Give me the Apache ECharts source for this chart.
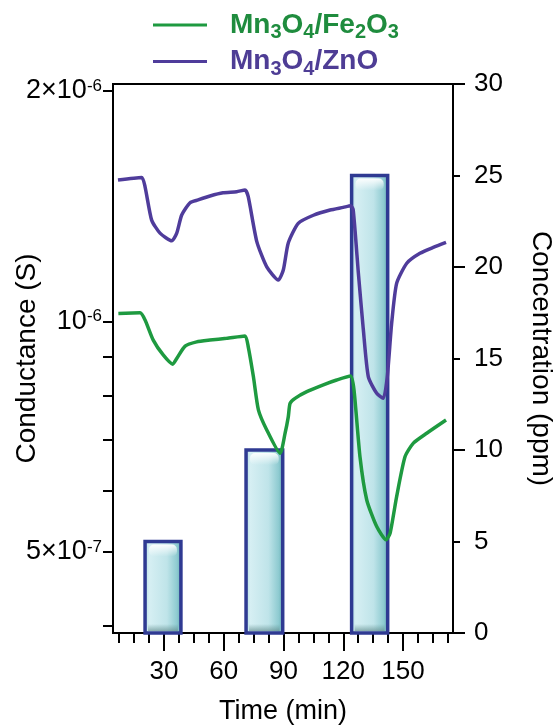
<!DOCTYPE html>
<html>
<head>
<meta charset="utf-8">
<script src="https://cdn.jsdelivr.net/npm/echarts@6/dist/echarts.min.js"></script>
<style>
html, body { margin: 0; padding: 0; background: #fff; }
#chart { width: 555px; height: 728px; }
</style>
</head>
<body>
<div id="chart"></div>
<script>
// conductance curves (S) vs time (min)
var timeFe = [7.1, 18.0, 20.5, 24.6, 29.7, 34.4, 36.4, 40.6, 46.4, 53.1, 61.5, 70.7, 72.3, 74.9, 77.4, 81.6, 88.3, 90.8, 92.4, 93.3, 95.8, 101.7, 110, 116.7, 123.7, 125.4, 128.4, 131.8, 136.8, 141.5, 143.5, 146.8, 151, 155.2, 161.9, 171.6];
var condFe = [1.024e-6, 1.026e-6, 1.004e-6, 9.45e-7, 9.03e-7, 8.79e-7, 8.94e-7, 9.28e-7, 9.40e-7, 9.45e-7, 9.50e-7, 9.57e-7, 9.26e-7, 8.46e-7, 7.66e-7, 7.21e-7, 6.72e-7, 7.14e-7, 7.50e-7, 7.81e-7, 7.93e-7, 8.09e-7, 8.26e-7, 8.38e-7, 8.48e-7, 8.13e-7, 6.65e-7, 5.84e-7, 5.39e-7, 5.18e-7, 5.28e-7, 5.90e-7, 6.65e-7, 6.93e-7, 7.14e-7, 7.43e-7];
var timeZn = [6.9, 18.8, 20.5, 23.8, 28.0, 33.9, 36.4, 38.9, 43.1, 47.1, 53.1, 59.6, 66.5, 70.7, 72.3, 76.6, 81.6, 87.4, 89.9, 92.4, 97.4, 105, 113.4, 120, 123.7, 125, 127.6, 130.1, 132.6, 136.8, 140.1, 142.1, 144.3, 146.8, 151.9, 158.5, 165.2, 171.6];
var condZn = [1.530e-6, 1.542e-6, 1.499e-6, 1.356e-6, 1.304e-6, 1.274e-6, 1.304e-6, 1.377e-6, 1.429e-6, 1.441e-6, 1.458e-6, 1.472e-6, 1.477e-6, 1.485e-6, 1.455e-6, 1.271e-6, 1.178e-6, 1.132e-6, 1.167e-6, 1.266e-6, 1.343e-6, 1.376e-6, 1.398e-6, 1.409e-6, 1.416e-6, 1.398e-6, 1.155e-6, 9.74e-7, 8.46e-7, 8.05e-7, 7.93e-7, 8.46e-7, 9.94e-7, 1.121e-6, 1.191e-6, 1.227e-6, 1.249e-6, 1.268e-6];

// gas pulses
var pulseStart = [20.5, 71.2, 124.2];
var pulseEnd = [38.5, 89.6, 142.3];
var pulseConc = [5, 10, 25];

// ticks
var condTicks = [4e-7, 5e-7, 6e-7, 7e-7, 8e-7, 9e-7, 1e-6, 2e-6];
var condLabels = [5e-7, 1e-6, 2e-6];
var timeLabels = [30, 60, 90, 120, 150];
var timeMinor = [7.5, 15, 22.5, 30, 37.5, 45, 52.5, 60, 67.5, 75, 82.5, 90, 97.5, 105, 112.5, 120, 127.5, 135, 142.5, 150, 157.5, 165, 172.5];
var concLabels = [0, 5, 10, 15, 20, 25, 30];

var FONT = 'Liberation Sans, Arial, sans-serif';
var GREEN = '#1e9a40';
var PURPLE = '#4f3c9b';

function zip(a, b) {
    return a.map(function (v, i) { return [v, b[i]]; });
}

function chem(name, key) {
    var out = '{gap| }';
    name.split(/(\d+)/).forEach(function (part, i) {
        if (!part) return;
        out += (i % 2 ? '{' + key + 's|' : '{' + key + '|') + part + '}';
    });
    return out;
}

var pulses = pulseStart.map(function (s, i) { return [s, pulseEnd[i], pulseConc[i]]; });

var chart = echarts.init(document.getElementById('chart'));

var option = {
    animation: false,
    textStyle: { fontFamily: FONT },
    grid: {
        left: 113, right: 102, top: 84, bottom: 95,
        containLabel: false, outerBoundsMode: 'none',
        show: true, borderColor: '#000', borderWidth: 2
    },
    legend: {
        orient: 'vertical',
        left: 153, top: 11,
        padding: 0,
        itemWidth: 54, itemHeight: 3, itemGap: 5,
        icon: 'rect',
        data: ['Mn3O4/Fe2O3', 'Mn3O4/ZnO'],
        formatter: function (name) {
            return chem(name, name.indexOf('Fe') > 0 ? 'g' : 'p');
        },
        textStyle: {
            rich: {
                gap: { width: 18 },
                g: { color: '#1f8c3e', fontSize: 28, fontWeight: 'bold', fontFamily: FONT },
                gs: { color: '#1f8c3e', fontSize: 20, fontWeight: 'bold', fontFamily: FONT, padding: [15, 0, 0, 0] },
                p: { color: '#4e3d95', fontSize: 28, fontWeight: 'bold', fontFamily: FONT },
                ps: { color: '#4e3d95', fontSize: 20, fontWeight: 'bold', fontFamily: FONT, padding: [15, 0, 0, 0] }
            }
        }
    },
    xAxis: [{
        type: 'value',
        position: 'bottom',
        min: 4.4, max: 175.1,
        name: 'Time (min)',
        nameLocation: 'middle',
        nameGap: 65,
        nameMoveOverlap: false,
        nameTextStyle: { fontSize: 27, color: '#000', fontFamily: FONT },
        axisLine: { lineStyle: { color: '#000', width: 2 } },
        axisTick: { customValues: timeLabels, length: 18, lineStyle: { color: '#000', width: 2 } },
        axisLabel: { customValues: timeLabels, fontSize: 26, color: '#000', margin: 26, fontFamily: FONT },
        splitLine: { show: false }
    }, {
        type: 'value',
        position: 'bottom',
        min: 4.4, max: 175.1,
        axisLine: { show: false },
        axisTick: { customValues: timeMinor, length: 10, lineStyle: { color: '#000', width: 2 } },
        axisLabel: { show: false },
        splitLine: { show: false }
    }],
    yAxis: [{
        type: 'log',
        position: 'left',
        min: 3.913e-7, max: 2.0426e-6,
        name: 'Conductance (S)',
        nameLocation: 'middle',
        nameGap: 72,
        nameMoveOverlap: false,
        nameTextStyle: { fontSize: 28, color: '#000', fontFamily: FONT },
        axisLine: { show: true, lineStyle: { color: '#000', width: 2 } },
        axisTick: { show: true, customValues: condTicks, length: 10, lineStyle: { color: '#000', width: 2 } },
        axisLabel: {
            customValues: condLabels,
            margin: 11,
            formatter: function (v) {
                var k = Math.round(v * 1e8);
                if (k === 200) return '{a|2×10}{s|-6}';
                if (k === 100) return '{a|10}{s|-6}';
                if (k === 50) return '{a|5×10}{s|-7}';
                return '';
            },
            rich: {
                a: { fontSize: 27, color: '#000', fontFamily: FONT },
                s: { fontSize: 17, color: '#000', fontFamily: FONT, padding: [0, 0, 9, 0] }
            }
        },
        splitLine: { show: false }
    }, {
        type: 'value',
        position: 'right',
        min: 0, max: 30, interval: 10,
        name: 'Concentration (ppm)',
        nameLocation: 'middle',
        nameRotate: -90,
        nameGap: 74,
        nameMoveOverlap: false,
        nameTextStyle: { fontSize: 28, color: '#000', fontFamily: FONT },
        axisLine: { show: true, lineStyle: { color: '#000', width: 2 } },
        axisTick: { show: true, length: 12, lineStyle: { color: '#000', width: 2 } },
        minorTick: { show: true, splitNumber: 2, length: 7, lineStyle: { color: '#000', width: 2 } },
        axisLabel: { customValues: concLabels, fontSize: 26, color: '#000', margin: 21, fontFamily: FONT },
        splitLine: { show: false },
        minorSplitLine: { show: false }
    }],
    series: [{
        type: 'custom',
        name: 'pulse',
        xAxisIndex: 0,
        yAxisIndex: 1,
        z: 1,
        encode: { x: [0, 1], y: 2 },
        data: pulses,
        renderItem: function (params, api) {
            var p0 = api.coord([api.value(0), api.value(2)]);
            var p1 = api.coord([api.value(1), 0]);
            var w = p1[0] - p0[0], h = p1[1] - p0[1];
            return {
                type: 'group',
                children: [{
                    type: 'rect',
                    shape: { x: p0[0], y: p0[1], width: w, height: h },
                    style: {
                        fill: new echarts.graphic.LinearGradient(0, 0, 1, 0, [
                            { offset: 0, color: '#a9d9e0' },
                            { offset: 0.15, color: '#d6eff3' },
                            { offset: 0.6, color: '#bfe4e9' },
                            { offset: 0.85, color: '#8fcbd1' },
                            { offset: 1, color: '#5da8b0' }
                        ]),
                        stroke: '#2f3a92',
                        lineWidth: 3.5
                    }
                }, {
                    type: 'rect',
                    shape: { x: p0[0] + 4, y: p0[1] + 3, width: w - 8, height: 12, r: 5 },
                    style: {
                        fill: new echarts.graphic.LinearGradient(0, 0, 0, 1, [
                            { offset: 0, color: 'rgba(255,255,255,0.95)' },
                            { offset: 1, color: 'rgba(255,255,255,0)' }
                        ])
                    }
                }, {
                    type: 'rect',
                    shape: { x: p0[0] + 3, y: p1[1] - 9, width: w - 6, height: 7 },
                    style: {
                        fill: new echarts.graphic.LinearGradient(0, 0, 0, 1, [
                            { offset: 0, color: 'rgba(90,140,140,0)' },
                            { offset: 1, color: 'rgba(90,130,130,0.6)' }
                        ])
                    }
                }]
            };
        }
    }, {
        type: 'line',
        name: 'Mn3O4/Fe2O3',
        xAxisIndex: 0,
        yAxisIndex: 0,
        z: 3,
        data: zip(timeFe, condFe),
        showSymbol: false,
        smooth: 0.2,
        color: GREEN,
        lineStyle: { color: GREEN, width: 3.5 }
    }, {
        type: 'line',
        name: 'Mn3O4/ZnO',
        xAxisIndex: 0,
        yAxisIndex: 0,
        z: 3,
        data: zip(timeZn, condZn),
        showSymbol: false,
        smooth: 0.2,
        color: PURPLE,
        lineStyle: { color: PURPLE, width: 3.5 }
    }]
};

chart.setOption(option);
</script>
</body>
</html>
